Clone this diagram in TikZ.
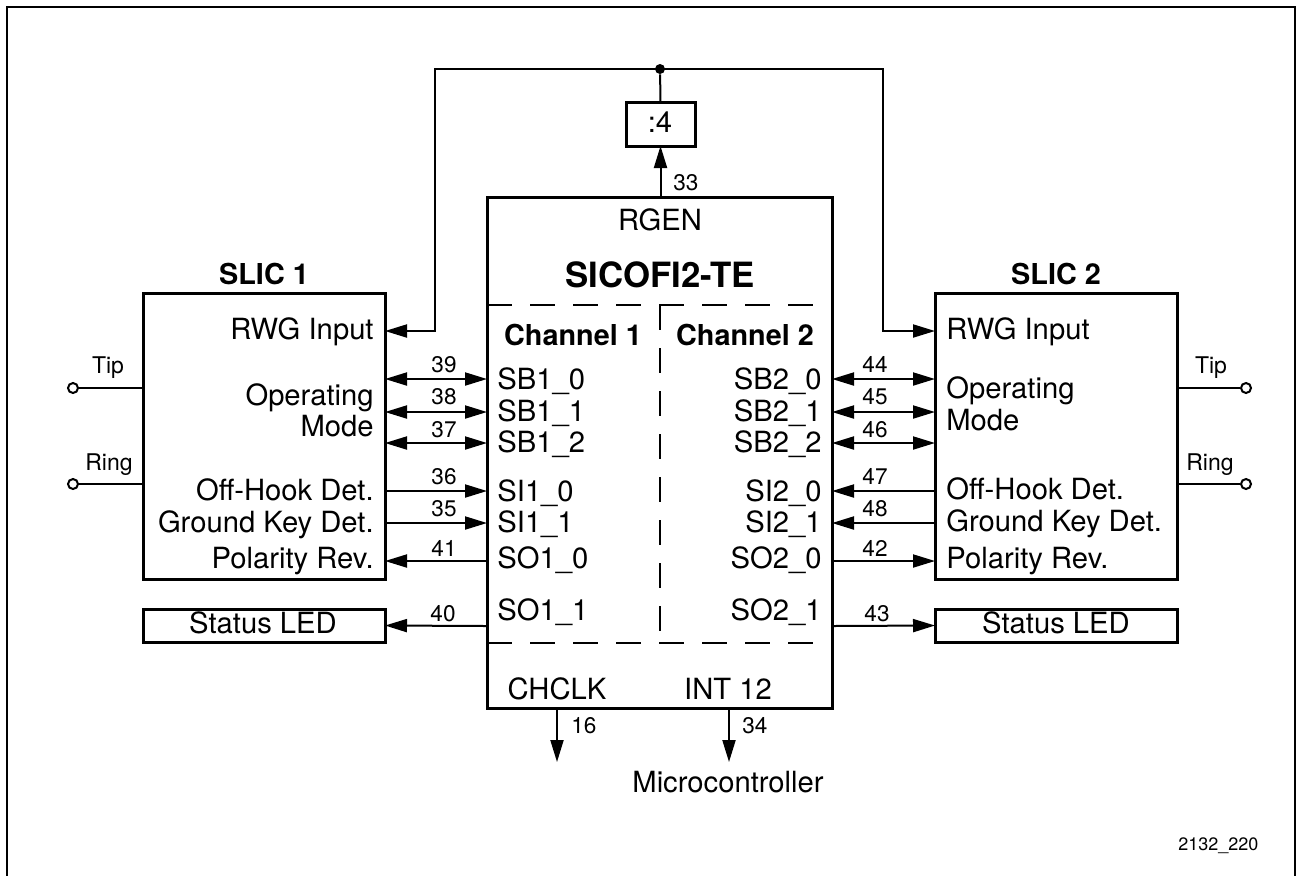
\documentclass[tikz,border=0pt]{standalone}
\usepackage{fontspec}
\setmainfont{TeX Gyre Heros}
\usetikzlibrary{arrows.meta,calc}
\newcommand\fsN{\fontsize{14.6}{17}\selectfont}
\newcommand\fsS{\fontsize{11.3}{13}\selectfont}
\newcommand\fsT{\fontsize{11.5}{14}\selectfont}
\newcommand\fsB{\fontsize{17.4}{20}\selectfont\bfseries}
\newcommand\fsH{\fontsize{14.4}{17}\selectfont\bfseries}
\newcommand\fsX{\fontsize{9}{11}\selectfont}
\begin{document}
\begin{tikzpicture}[x=0.5pt,y=-0.5pt,
  box/.style={draw, line width=1.5pt, rectangle, inner sep=0pt, outer sep=0pt, anchor=north west},
  wire/.style={line width=1pt},
  arr/.style={wire, -{Triangle[length=11pt,width=6.5pt]}},
  darr/.style={wire, {Triangle[length=11pt,width=6.5pt]}-{Triangle[length=11pt,width=6.5pt]}},
  lbl/.style={inner sep=0pt, font=\fsN},
  num/.style={inner sep=0pt, font=\fsS, anchor=base},
  term/.style={circle, draw, wire, fill=white, inner sep=0pt, minimum size=5pt},
  dashln/.style={line width=1pt, dash pattern=on 12.5pt off 9pt}
]
\useasboundingbox (0,0) rectangle (1299,875);
\fill[white] (0,0) rectangle (1299,875);
\clip (0,0) rectangle (1299,875);

% outer frame
\draw[line width=1.2pt] (7,890) -- (7,7) -- (1295,7) -- (1295,890);

% boxes
\node[box, minimum width=121pt, minimum height=143pt] (slic1) at (143,293) {};
\node[box, minimum width=121pt, minimum height=143pt] (slic2) at (935,293) {};
\node[box, minimum width=172.5pt, minimum height=255.5pt] (chip) at (487,197) {};
\node[box, minimum width=34.5pt, minimum height=22pt] (div4) at (626,102) {};
\node[box, minimum width=121pt, minimum height=16.5pt] (led1) at (143,609) {};
\node[box, minimum width=121pt, minimum height=16.5pt] (led2) at (935,609) {};

\node[inner sep=0pt, font=\fsN, anchor=base] (div4t) at (660,132) {:4};
\node[inner sep=0pt, font=\fsN, anchor=base] (led1t) at (263,633) {Status LED};
\node[inner sep=0pt, font=\fsN, anchor=base] (led2t) at (1056,633) {Status LED};

% titles
\node[inner sep=0pt, font=\fsH, anchor=base] (slic1t) at (264,284) {SLIC 1};
\node[inner sep=0pt, font=\fsH, anchor=base] (slic2t) at (1056,284) {SLIC 2};
\node[inner sep=0pt, font=\fsN, anchor=base] (rgen) at (660,230) {RGEN};
\node[inner sep=0pt, font=\fsB, anchor=base] (chipt) at (660,287) {SICOFI2-TE};
\node[inner sep=0pt, font=\fsH, anchor=base] (ch1) at (573,345) {Channel 1};
\node[inner sep=0pt, font=\fsH, anchor=base] (ch2) at (745,345) {Channel 2};
\node[inner sep=0pt, font=\fsN, anchor=base] (chclk) at (557,699) {CHCLK};
\node[inner sep=0pt, font=\fsN, anchor=base] (int12) at (728,699) {INT 12};
\node[inner sep=0pt, font=\fsN, anchor=base] (mcu) at (728,792) {Microcontroller};
\node[inner sep=0pt, font=\fsX, anchor=base west] (fig) at (1178,850) {2132\_220};

% dashed channel separators
\coordinate (dtl) at (487,305);
\coordinate (dtr) at (832,305);
\coordinate (dbl) at (487,643);
\coordinate (dbr) at (832,643);
\coordinate (dvt) at (660,305);
\coordinate (dvb) at (660,643);
\draw[dashln] (dtl) -- (dtr);
\draw[dashln] (dbl) -- (dbr);
\draw[dashln] (dvt) -- (dvb);

% SLIC 1 labels
\node[lbl, anchor=base east] (l1rwg) at (374,339) {RWG Input};
\node[lbl, anchor=base east] (l1op) at (374,405) {Operating};
\node[lbl, anchor=base east] (l1md) at (374,436) {Mode};
\node[lbl, anchor=base east] (l1oh) at (374,500) {Off-Hook Det.};
\node[lbl, anchor=base east] (l1gk) at (374,532) {Ground Key Det.};
\node[lbl, anchor=base east] (l1pr) at (374,568) {Polarity Rev.};
% SLIC 2 labels
\node[lbl, anchor=base west] (l2rwg) at (946,339) {RWG Input};
\node[lbl, anchor=base west] (l2op) at (946,398) {Operating};
\node[lbl, anchor=base west] (l2md) at (946,430) {Mode};
\node[lbl, anchor=base west] (l2oh) at (946,499) {Off-Hook Det.};
\node[lbl, anchor=base west] (l2gk) at (946,531) {Ground Key Det.};
\node[lbl, anchor=base west] (l2pr) at (946,568) {Polarity Rev.};

% chip pin labels
\node[lbl, anchor=base west] (p1a) at (497,389) {SB1\_0};
\node[lbl, anchor=base west] (p1b) at (497,421) {SB1\_1};
\node[lbl, anchor=base west] (p1c) at (497,452) {SB1\_2};
\node[lbl, anchor=base west] (p1d) at (497,501) {SI1\_0};
\node[lbl, anchor=base west] (p1e) at (497,532) {SI1\_1};
\node[lbl, anchor=base west] (p1f) at (497,568) {SO1\_0};
\node[lbl, anchor=base west] (p1g) at (497,620) {SO1\_1};
\node[lbl, anchor=base east] (p2a) at (822,389) {SB2\_0};
\node[lbl, anchor=base east] (p2b) at (822,421) {SB2\_1};
\node[lbl, anchor=base east] (p2c) at (822,452) {SB2\_2};
\node[lbl, anchor=base east] (p2d) at (822,501) {SI2\_0};
\node[lbl, anchor=base east] (p2e) at (822,532) {SI2\_1};
\node[lbl, anchor=base east] (p2f) at (822,568) {SO2\_0};
\node[lbl, anchor=base east] (p2g) at (822,620) {SO2\_1};

% signal rows
\coordinate (yrwg) at (0,331);
\coordinate (ya) at (0,379);
\coordinate (yb) at (0,412);
\coordinate (yc) at (0,443);
\coordinate (yd) at (0,491);
\coordinate (ye) at (0,523);
\coordinate (yf) at (0,561);
\coordinate (yg) at (0,626);

\draw[darr] (slic1.east |- ya) -- (chip.west |- ya);
\draw[darr] (slic1.east |- yb) -- (chip.west |- yb);
\draw[darr] (slic1.east |- yc) -- (chip.west |- yc);
\draw[arr] (slic1.east |- yd) -- (chip.west |- yd);
\draw[arr] (slic1.east |- ye) -- (chip.west |- ye);
\draw[arr] (chip.west |- yf) -- (slic1.east |- yf);
\draw[arr] (chip.west |- yg) -- (led1.east);

\draw[darr] (chip.east |- ya) -- (slic2.west |- ya);
\draw[darr] (chip.east |- yb) -- (slic2.west |- yb);
\draw[darr] (chip.east |- yc) -- (slic2.west |- yc);
\draw[arr] (slic2.west |- yd) -- (chip.east |- yd);
\draw[arr] (slic2.west |- ye) -- (chip.east |- ye);
\draw[arr] (chip.east |- yf) -- (slic2.west |- yf);
\draw[arr] (chip.east |- yg) -- (led2.west);

% pin numbers
\node[num] (n39) at (444,372) {39};
\node[num] (n38) at (444,404) {38};
\node[num] (n37) at (444,437) {37};
\node[num] (n36) at (444,484) {36};
\node[num] (n35) at (444,516) {35};
\node[num] (n41) at (444,556) {41};
\node[num] (n40) at (443,621) {40};
\node[num] (n44) at (875,372) {44};
\node[num] (n45) at (875,404) {45};
\node[num] (n46) at (875,437) {46};
\node[num] (n47) at (875,484) {47};
\node[num] (n48) at (875,516) {48};
\node[num] (n42) at (875,556) {42};
\node[num] (n43) at (877,621) {43};

% ring generator
\node[circle, fill, inner sep=0pt, minimum size=5pt] (junc) at (660,69) {};
\coordinate (cl) at (435,69);
\coordinate (cr) at (883,69);
\draw[wire] (junc) -- (div4.north);
\draw[arr] (chip.north -| div4.south) -- (div4.south);
\node[num, anchor=base west] (n33) at (673,190) {33};
\draw[arr] (junc.center) -- (cl) -- (cl |- yrwg) -- (slic1.east |- yrwg);
\draw[arr] (junc.center) -- (cr) -- (cr |- yrwg) -- (slic2.west |- yrwg);

% bottom outputs
\coordinate (ck) at (557,762);
\coordinate (it) at (729,762);
\draw[arr] (chip.south -| ck) -- (ck);
\draw[arr] (chip.south -| it) -- (it);
\node[num, anchor=base west] (n16) at (571,733) {16};
\node[num, anchor=base west] (n34) at (742,733) {34};

% Tip / Ring terminals
\node[term] (tip1) at (73,388) {};
\node[term] (ring1) at (73,484) {};
\node[term] (tip2) at (1246,388) {};
\node[term] (ring2) at (1246,484) {};
\draw[wire] (tip1) -- (slic1.west |- tip1);
\draw[wire] (ring1) -- (slic1.west |- ring1);
\draw[wire] (tip2) -- (slic2.east |- tip2);
\draw[wire] (ring2) -- (slic2.east |- ring2);
\node[inner sep=0pt, font=\fsT, anchor=base] (tip1t) at (108,373) {Tip};
\node[inner sep=0pt, font=\fsT, anchor=base] (ring1t) at (109,470) {Ring};
\node[inner sep=0pt, font=\fsT, anchor=base] (tip2t) at (1211,373) {Tip};
\node[inner sep=0pt, font=\fsT, anchor=base] (ring2t) at (1210,470) {Ring};
\end{tikzpicture}
\end{document}
